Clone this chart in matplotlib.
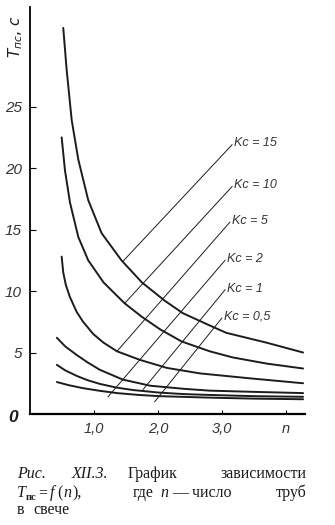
import matplotlib.pyplot as plt

W, H = 335, 525

# T_pc (s) against n for every Kc curve, read point by point
kc_labels = ['15', '10', '5', '2', '1', '0,5']

n_15 = [0.52, 0.573, 0.652, 0.755, 0.91, 1.12, 1.43, 1.75, 2.11, 2.39, 2.81, 3.07, 3.7, 4.27]
t_15 = [31.4, 28.0, 23.9, 20.7, 17.4, 14.7, 12.5, 10.7, 9.2, 8.2, 7.2, 6.6, 5.8, 5.0]

n_10 = [0.495, 0.547, 0.625, 0.755, 0.91, 1.15, 1.48, 1.75, 2.03, 2.37, 2.81, 3.17, 3.7, 4.27]
t_10 = [22.5, 19.8, 17.2, 14.4, 12.5, 10.7, 9.0, 7.9, 6.9, 5.9, 5.1, 4.6, 4.1, 3.7]

n_5 = [0.495, 0.52, 0.56, 0.625, 0.73, 0.83, 0.99, 1.15, 1.36, 1.72, 2.14, 2.66, 3.44, 4.27]
t_5 = [12.8, 11.5, 10.5, 9.5, 8.3, 7.5, 6.5, 5.8, 5.1, 4.4, 3.75, 3.3, 2.9, 2.5]

n_2 = [0.42, 0.55, 0.73, 0.9, 1.09, 1.45, 1.88, 2.4, 2.81, 3.5, 4.27]
t_2 = [6.2, 5.5, 4.8, 4.2, 3.6, 2.8, 2.3, 2.05, 1.9, 1.8, 1.7]

n_1 = [0.42, 0.55, 0.73, 0.9, 1.09, 1.35, 1.61, 2.0, 2.4, 2.81, 3.5, 4.27]
t_1 = [4.0, 3.55, 3.1, 2.75, 2.45, 2.15, 1.95, 1.75, 1.62, 1.55, 1.45, 1.4]

n_05 = [0.42, 0.6, 0.83, 1.1, 1.36, 1.7, 2.03, 2.81, 3.5, 4.27]
t_05 = [2.6, 2.35, 2.1, 1.88, 1.7, 1.55, 1.45, 1.33, 1.25, 1.2]

# leader lines: point on the chart -> label anchor
lead_n0 = [1.45, 1.48, 1.36, 1.22, 1.77, 1.95]
lead_t0 = [12.4, 9.0, 5.1, 1.4, 2.0, 1.0]
lead_n1 = [3.16, 3.16, 3.125, 3.05, 3.05, 3.0]
lead_t1 = [21.9, 18.5, 15.6, 12.5, 10.1, 7.8]

y_ticks = [5, 10, 15, 20, 25]
x_ticks = [1, 2, 3, 4]
x_ticklabels = ['1,0', '2,0', '3,0', 'n']

sans = ['Liberation Sans', 'DejaVu Sans']
serif = ['Liberation Serif', 'DejaVu Serif']
ink = '#1c1c1c'

fig = plt.figure(figsize=(W / 100, H / 100), dpi=100)
ax = fig.add_axes([30 / W, 111 / H, 275 / W, 407 / H])

curves = [(n_15, t_15), (n_10, t_10), (n_5, t_5), (n_2, t_2), (n_1, t_1), (n_05, t_05)]
for n, t in curves:
    ax.plot(n, t, color=ink, lw=1.4, solid_capstyle='round', solid_joinstyle='round')

for i, kc in enumerate(kc_labels):
    ax.plot([lead_n0[i], lead_n1[i]], [lead_t0[i], lead_t1[i]], color=ink, lw=0.7)
    ax.text(lead_n1[i] + 0.03, lead_t1[i] + 0.1, f'Kc = {kc}', style='italic',
            family=sans, fontsize=9, color='#333333', ha='left', va='center')

ax.set_xlim(0, 4.3)
ax.set_ylim(0, 33.1)
for side in ['top', 'right']:
    ax.spines[side].set_visible(False)
ax.spines['left'].set_linewidth(1.3)
ax.spines['bottom'].set_linewidth(1.6)

ax.set_yticks(y_ticks)
ax.set_yticklabels([str(v) for v in y_ticks], style='italic', family=sans,
                   fontsize=11, color='#333333')
ax.set_xticks(x_ticks)
ax.set_xticklabels(x_ticklabels, style='italic', family=sans, fontsize=10.5,
                   color='#333333')
ax.tick_params(axis='y', direction='in', length=4, width=0.8, pad=6)
ax.tick_params(axis='x', direction='in', length=3, width=0.8, pad=6)

# origin label and axis title
fig.text(13 / W, 1 - 418 / H, '0', style='italic', fontweight='bold', family=sans,
         fontsize=12.5, ha='center', va='center', color=ink)
fig.text(16 / W, 1 - 37 / H, r'$T_{пс}$, $c$', rotation=90, fontsize=11,
         ha='center', va='center', color=ink)

# caption, set word by word to keep the justified lines
cap = dict(family=serif, fontsize=11.5, color=ink, va='baseline')
def put(x, y, s, **kw):
    fig.text(x / W, 1 - y / H, s, **{**cap, **kw})

put(17, 478, 'Рис.', style='italic')
put(72, 478, 'XII.3.', style='italic')
put(128, 478, 'График')
put(307, 478, 'зависимости', ha='right')
put(17, 497, 'T', style='italic')
put(26, 500, 'пс', fontsize=7.5, fontweight='bold')
put(38, 497, '=')
put(50, 497, 'f', style='italic')
put(57, 497, '(')
put(63, 497, 'n', style='italic')
put(72, 497, '),')
put(133, 497, 'где')
put(160, 497, 'n', style='italic')
put(172, 497, '— число')
put(307, 497, 'труб', ha='right')
put(17, 514, 'в')
put(33, 514, 'свече')

fig.savefig('out.png', dpi=100)
